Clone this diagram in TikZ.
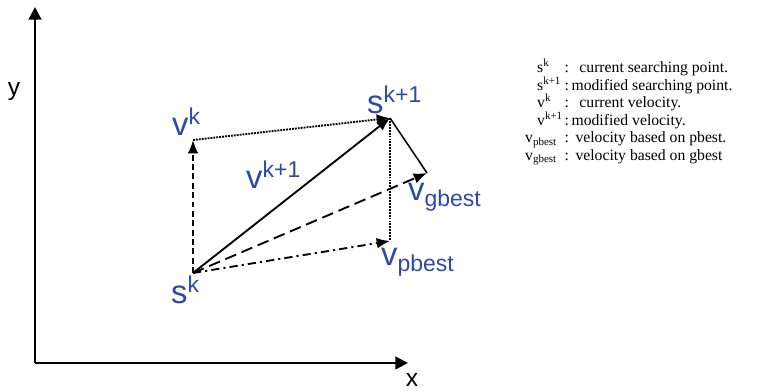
\documentclass[tikz,border=0pt]{standalone}
\usepackage{fontspec}
\setmainfont{Liberation Serif}
\newfontfamily\labelfont{Liberation Sans}
\usetikzlibrary{arrows.meta}

\definecolor{labelblue}{RGB}{48,72,165}

% one legend line: label box, then colon and text
\newcommand{\keyline}[3]{\makebox[33.6pt][l]{\hspace*{#1}#2}:\,#3}

\begin{document}
\begin{tikzpicture}[
    x=0.03cm, y=-0.03cm,
    axis/.style={
        line width=2pt,
        -{Triangle[length=3.8mm, width=3.8mm]}
    },
    vec/.style={
        line width=1.6pt,
        -{Latex[length=4mm, width=3.2mm]}
    },
    plain/.style={
        line width=1.6pt
    },
    ptlabel/.style={
        font=\labelfont\fontsize{28}{30}\selectfont,
        text=labelblue, inner sep=0pt, anchor=base west
    },
    axlabel/.style={
        font=\labelfont\fontsize{21}{24}\selectfont,
        inner sep=0pt
    },
    legend/.style={
        font=\fontsize{13.4}{14.9}\selectfont,
        execute at begin node={\lineskiplimit=-20pt\relax},
        inner sep=0pt, align=left
    }
]

\useasboundingbox (0,0) rectangle (768,390);

% Axes
\coordinate (origin) at (35,363);
\coordinate (ytip) at (35,7);
\coordinate (xtip) at (408,363);
\draw[axis] (origin) -- (ytip);
\draw[axis] (origin) -- (xtip);
\node[axlabel] (ylab) at (14,92) {y};
\node[axlabel] (xlab) at (412,380) {x};

% Points of the update
\coordinate (sk) at (193,273);
\coordinate (vk) at (193,140);
\coordinate (sk1) at (390,118);
\coordinate (vg) at (427,173);
\coordinate (vp) at (390,241);

% Vectors
\draw[vec, dash pattern=on 5pt off 3pt] (sk) -- (vk);
\draw[vec, dash pattern=on 1.6pt off 0.9pt] (vk) -- (sk1);
\draw[vec] (sk) -- (sk1);
\draw[plain, line width=1.3pt] (sk1) -- (vg);
\draw[plain, dash pattern=on 1.6pt off 0.9pt] (sk1) -- (vp);
\draw[vec, dash pattern=on 10pt off 5pt] (sk) -- (vg);
\draw[vec, dash pattern=on 7pt off 3.5pt on 1.8pt off 3.5pt] (sk) -- (vp);

% Labels
\node[ptlabel] (sklab) at (171,303) {s\textsuperscript{k}};
\node[ptlabel] (vklab) at (172,135) {v\textsuperscript{k}};
\node[ptlabel] (sk1lab) at (367,113) {s\textsuperscript{k+1}};
\node[ptlabel] (vk1lab) at (246,188) {v\textsuperscript{k+1}};
\node[ptlabel] (vglab) at (408,200) {v\textsubscript{gbest}};
\node[ptlabel] (vplab) at (381,265) {v\textsubscript{pbest}};

% Legend
\node[legend, anchor=north west] (legend) at (525,59) {%
  \keyline{10.2pt}{s\textsuperscript{k}}{\ \ current searching point.}\\
  \keyline{10.2pt}{s\textsuperscript{k+1}}{modified searching point.}\\
  \keyline{10.2pt}{v\textsuperscript{k}}{\ \ current velocity.}\\
  \keyline{10.2pt}{v\textsuperscript{k+1}}{modified velocity.}\\
  \keyline{0pt}{v\textsubscript{pbest}}{\ velocity based on pbest.}\\
  \keyline{0pt}{v\textsubscript{gbest}}{\ velocity based on gbest}};

\end{tikzpicture}
\end{document}
